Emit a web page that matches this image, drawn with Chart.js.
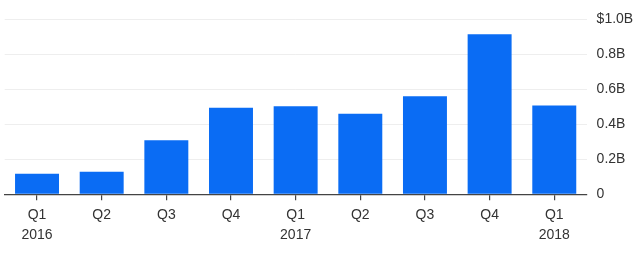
<!DOCTYPE html>
<html>
<head>
<meta charset="utf-8">
<script src="https://cdn.jsdelivr.net/npm/chart.js@4.4.1/dist/chart.umd.min.js"></script>
<style>
  html, body { margin: 0; padding: 0; background: #fff; }
  #wrap { width: 640px; height: 253px; }
</style>
</head>
<body>
<div id="wrap"><canvas id="myChart"></canvas></div>
<script>
const quarters = ['Q1', 'Q2', 'Q3', 'Q4', 'Q1', 'Q2', 'Q3', 'Q4', 'Q1']
const years = ['2016', '', '', '', '2017', '', '', '', '2018']
const values = [0.118, 0.129, 0.309, 0.495, 0.503, 0.461, 0.56, 0.914, 0.507]
const yTicks = [0, 0.2, 0.4, 0.6, 0.8, 1.0]

const labels = quarters.map((q, i) => years[i] ? [q, years[i]] : q)

const data = {
  labels: labels,
  datasets: [{
    data: values,
    backgroundColor: '#0a6cf4',
    barPercentage: 0.68,
    categoryPercentage: 1
  }]
}

const config = {
  type: 'bar',
  data: data,
  options: {
    responsive: true,
    maintainAspectRatio: false,
    animation: false,
    layout: { padding: { left: 4.7, right: 0, top: 19.3, bottom: 7.7 } },
    plugins: { legend: { display: false }, tooltip: { enabled: false } },
    scales: {
      x: {
        afterFit: (scale) => { scale.height = 51 },
        grid: { display: true, offset: false, drawOnChartArea: false, drawTicks: true, tickLength: 6, color: '#444', lineWidth: 1.2 },
        border: { display: true, color: '#444', width: 1.2 },
        ticks: {
          color: '#333',
          padding: 5,
          font: { family: 'Liberation Sans', size: 14, lineHeight: '20px' },
          maxRotation: 0,
          autoSkip: false
        }
      },
      y: {
        position: 'right',
        min: 0,
        max: 1.0,
        afterFit: (scale) => { scale.width = 53.4 },
        afterBuildTicks: (scale) => { scale.ticks = yTicks.map(v => ({ value: v })) },
        grid: { drawTicks: false, color: (c) => c.tick && c.tick.value === 0 ? 'rgba(0,0,0,0)' : '#eeeeee', lineWidth: 1 },
        border: { display: false },
        ticks: {
          color: '#333',
          padding: 10,
          font: { family: 'Liberation Sans', size: 14 },
          callback: (v) => v === 0 ? '0' : (v === 1 ? '$1.0B' : v.toFixed(1) + 'B')
        }
      }
    }
  }
}

let myChart = new Chart(document.getElementById('myChart'), config)
</script>
</body>
</html>
